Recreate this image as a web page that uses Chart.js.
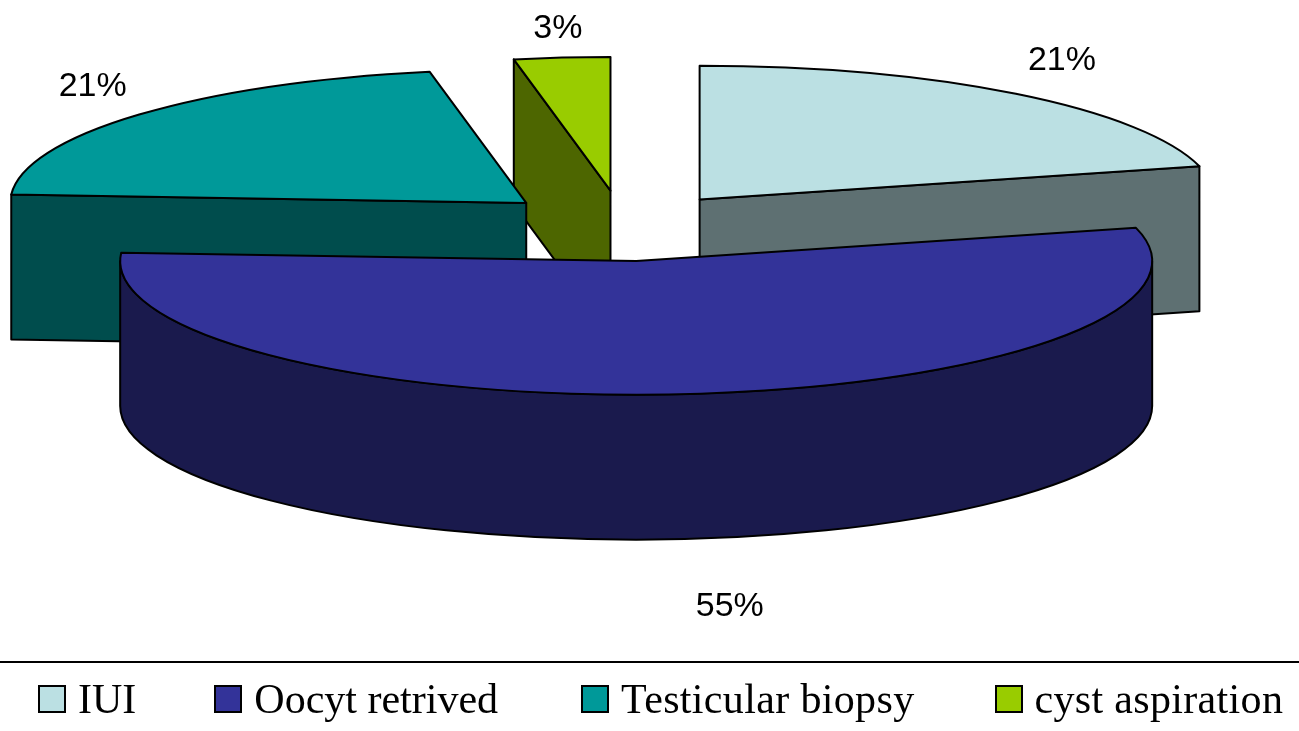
<!DOCTYPE html>
<html>
<head>
    <title>Procedures</title>
    <script src="https://cdn.jsdelivr.net/npm/chart.js"></script>
    <style>
        body {
            margin: 0;
            padding: 0;
            overflow: hidden;
            background-color: #ffffff;
        }
        #myChart {
            position: absolute;
            top: 0;
            left: 0;
        }
        #rule {
            position: absolute;
            top: 661px;
            left: 0;
            width: 1299px;
            height: 2px;
            background: #000000;
        }
        #legend {
            position: absolute;
            top: 673px;
            left: 38px;
            display: flex;
            white-space: nowrap;
            font-family: 'Liberation Serif', serif;
            font-size: 42px;
            line-height: 52px;
            color: #000000;
        }
        .item {
            display: flex;
            align-items: center;
        }
        .swatch {
            width: 24px;
            height: 24px;
            border: 2px solid #000000;
            margin-right: 12px;
        }
    </style>
</head>
<body>
    <canvas id="myChart" width="1299" height="731"></canvas>
    <div id="rule"></div>
    <div id="legend"></div>

    <script>
        const categories = ['IUI', 'Oocyt retrived', 'Testicular biopsy', 'cyst aspiration'];
        const shares = [21, 55, 21, 3];
        const topColors = ['#BBE0E3', '#333399', '#009999', '#99CC00'];
        const wallColors = ['#5E7072', '#1A1A4D', '#004D4D', '#4D6600'];

        // back to front, the big slice sits over everything
        const drawOrder = [3, 2, 0, 1];
        const explode = [125, 140, 129, 133];
        const labelNudge = [[13, -1], [40, 171], [-6, -1], [1, 12]];

        // legend text in the picture is a bit wider on some items
        const legendGaps = [78, 83, 80, 0];
        const legendSpacing = [0, 0, 0.35, 0.33];

        const pieRadius = 516;
        const squash = 0.259;
        const wallDepth = 145;

        function sliceWalls(ctx, cx, cy, start, end, color) {
            const ry = pieRadius * squash;
            const px = a => cx + Math.cos(a) * pieRadius;
            const py = a => cy + Math.sin(a) * ry;
            ctx.fillStyle = color;

            // flat cut faces, only the ones turned to the viewer
            [[start, -Math.cos(start)], [end, Math.cos(end)]].forEach(([a, facing]) => {
                if (facing <= 0.001) return;
                ctx.beginPath();
                ctx.moveTo(cx, cy);
                ctx.lineTo(px(a), py(a));
                ctx.lineTo(px(a), py(a) + wallDepth);
                ctx.lineTo(cx, cy + wallDepth);
                ctx.closePath();
                ctx.fill();
                ctx.stroke();
            });

            // curved rim, front half of the ellipse only
            const from = Math.max(start, 0);
            const to = Math.min(end, Math.PI);
            if (to > from) {
                ctx.beginPath();
                ctx.ellipse(cx, cy, pieRadius, ry, 0, from, to);
                ctx.ellipse(cx, cy + wallDepth, pieRadius, ry, 0, to, from, true);
                ctx.closePath();
                ctx.fill();
                ctx.stroke();
            }
        }

        const pie3d = {
            id: 'pie3d',
            beforeDatasetDraw(chart, args) {
                const ctx = chart.ctx;
                const arcs = args.meta.data;
                ctx.save();
                ctx.lineWidth = 2;
                ctx.lineJoin = 'round';
                ctx.strokeStyle = '#000000';

                drawOrder.forEach(i => {
                    const arc = arcs[i];
                    const mid = (arc.startAngle + arc.endAngle) / 2;
                    const cx = arc.x + Math.cos(mid) * explode[i];
                    const cy = arc.y + Math.sin(mid) * explode[i] * squash;
                    sliceWalls(ctx, cx, cy, arc.startAngle, arc.endAngle, wallColors[i]);

                    ctx.fillStyle = topColors[i];
                    ctx.beginPath();
                    ctx.moveTo(cx, cy);
                    ctx.ellipse(cx, cy, arc.outerRadius, arc.outerRadius * squash, 0, arc.startAngle, arc.endAngle);
                    ctx.closePath();
                    ctx.fill();
                    ctx.stroke();
                });

                // percent labels
                ctx.fillStyle = '#000000';
                ctx.font = "34px 'Liberation Sans', sans-serif";
                ctx.textAlign = 'center';
                ctx.textBaseline = 'middle';
                arcs.forEach((arc, i) => {
                    const mid = (arc.startAngle + arc.endAngle) / 2;
                    const cx = arc.x + Math.cos(mid) * (explode[i] + 570);
                    const cy = arc.y + Math.sin(mid) * (explode[i] * squash + 175);
                    ctx.fillText(shares[i] + '%', cx + labelNudge[i][0], cy + labelNudge[i][1]);
                });
                ctx.restore();
                return false;
            }
        };

        new Chart(document.getElementById('myChart'), {
            type: 'pie',
            data: {
                labels: categories,
                datasets: [{
                    data: shares,
                    backgroundColor: topColors,
                    radius: pieRadius
                }]
            },
            options: {
                responsive: false,
                animation: false,
                events: [],
                // puts the pie centre at 623,225
                layout: { padding: { right: 53, bottom: 281 } },
                plugins: {
                    legend: { display: false },
                    tooltip: { enabled: false }
                }
            },
            plugins: [pie3d]
        });

        const legend = document.getElementById('legend');
        categories.forEach((name, i) => {
            const item = document.createElement('div');
            item.className = 'item';
            item.style.marginRight = legendGaps[i] + 'px';
            item.style.letterSpacing = legendSpacing[i] + 'px';
            const swatch = document.createElement('div');
            swatch.className = 'swatch';
            swatch.style.background = topColors[i];
            item.appendChild(swatch);
            item.appendChild(document.createTextNode(name));
            legend.appendChild(item);
        });
    </script>
</body>
</html>
